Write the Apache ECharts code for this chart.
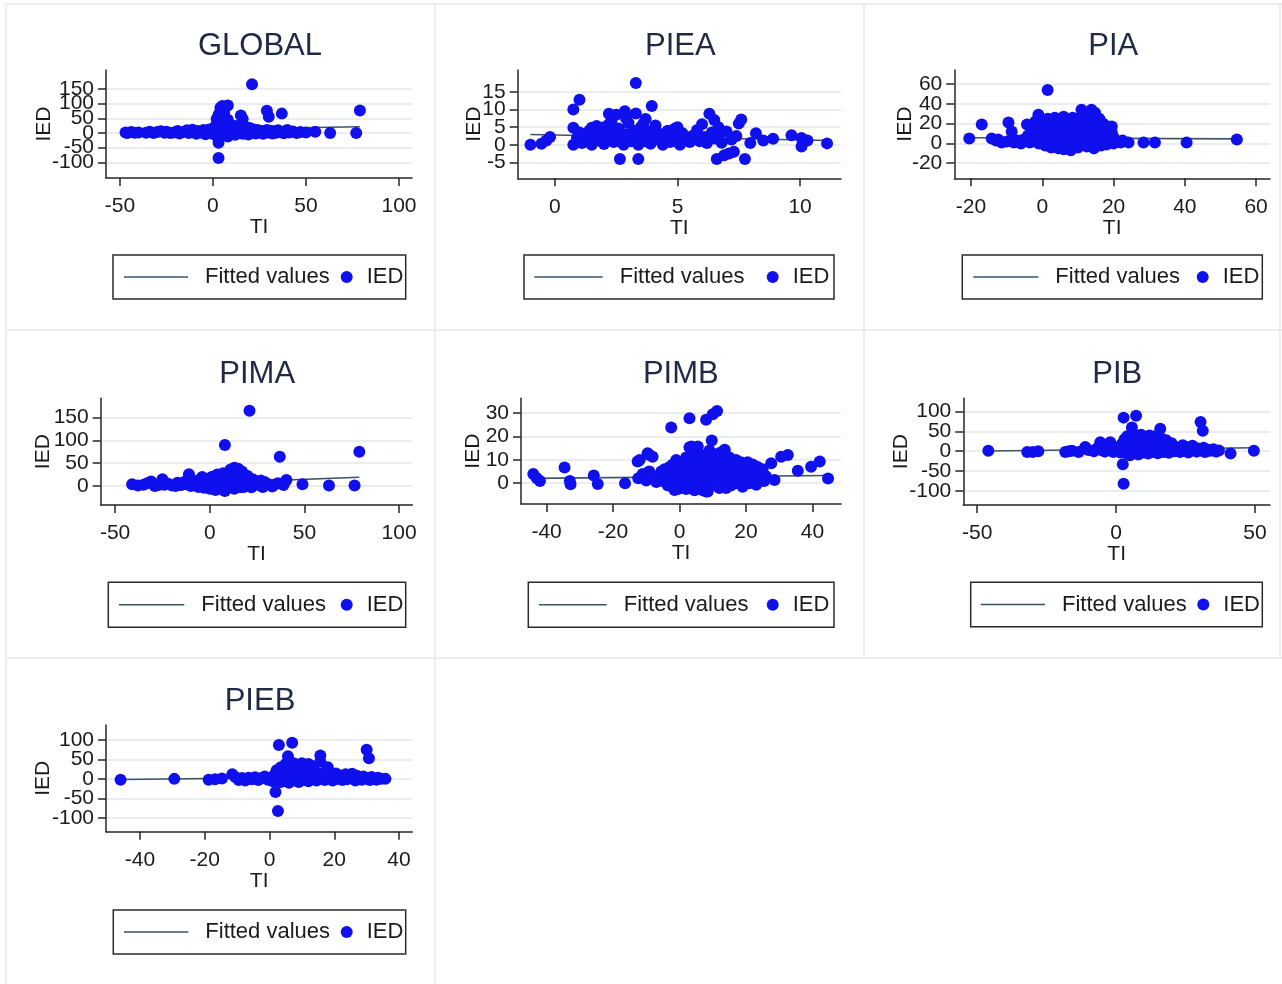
<!DOCTYPE html>
<html><head><meta charset="utf-8">
<script src="https://cdn.jsdelivr.net/npm/echarts@6/dist/echarts.min.js"></script>
<style>html,body{margin:0;padding:0;background:#fff}#c{width:1282px;height:984px}</style>
</head><body><div id="c"></div>
<script>
// ---------------- DATA ----------------
const panelNames = ['GLOBAL','PIEA','PIA','PIMA','PIMB','PIB','PIEB'];
const seriesNames = ['Fitted values','IED'];
const xAxisTitle = 'TI';
const yAxisTitle = 'IED';

const globalPts = [[-47,2],[-46,0],[-44,3],[-42,1],[-40,2],[-36,1],[-34,4],[-32,0],[-30,3],[-28,6],[-26,1],[-25,4],[-23,0],[-21,2],[-19,7],[-18,-2],[-16,3],[-14,9],[-13,0],[-11,11],[-10,4],[-9,-3],[-8,7],[-6,1],[-5,10],[-4,-4],[-3,4],[-2,12],[-1,-1],
[0,6],[1,20],[1,-6],[2,30],[2,3],[2,48],[3,62],[3,40],[3,14],[3,-10],[3,-20],[3,-33],[3,-85],[4,86],[4,25],[4,-4],[5,92],[5,55],[5,10],[6,70],[6,33],[6,-8],[7,18],[7,2],[8,94],[8,45],[8,-12],[9,28],[9,8],[10,24],[10,-2],
[11,20],[11,5],[12,24],[12,-6],[13,14],[13,22],[14,3],[14,18],[15,60],[15,12],[16,48],[16,-3],[17,20],[17,8],[18,14],[18,0],[19,18],[19,-5],[20,10],[20,16],[21,166],[21,4],[22,12],[23,-2],[23,8],[24,10],[25,2],
[26,7],[27,-3],[28,5],[29,76],[29,10],[30,55],[30,2],[31,8],[32,-2],[33,6],[34,1],[35,9],[36,3],[37,66],[38,-1],[39,7],[40,10],[41,2],[43,5],[45,0],[47,3],[50,2],[55,4],[63,0],[77,0],[79,77]];
const globalFit = [[-47,8.5],[79,21]];
const globalXTicks = [-50,0,50,100];
const globalYTicks = [-100,-50,0,50,100,150];

const pieaPts = [[-1,0],[-0.55,0.3],[-0.35,1.2],[-0.2,2.2],[0.75,10],[1.0,12.8],[0.75,4.8],[0.75,0],[3.3,17.5],[3.95,11],[2.2,8.8],[2.5,8.5],[2.85,9.5],[3.3,8.9],[2.65,-4],[3.4,-4],[3.7,7.3],[6.3,8.8],[6.5,7],[6.67,5],[6.6,-4],[6.9,-3],[7.3,-2],[7.1,-2.5],[7.75,-4],[7.5,6],[7.6,7.2],[7.97,0.5],[8.2,3.3],[8.5,1.2],[8.9,1.7],[9.65,2.7],[10.06,1.9],[10.06,-0.5],[10.3,1.2],[11.1,0.4],
[0.9,2],[1.0,3.5],[1.1,0.5],[1.2,2.8],[1.3,1],[1.4,4],[1.5,0],[1.6,2.5],[1.7,5.3],[1.8,1.2],[1.9,3.3],[2.0,0.2],[2.1,2],[2.2,5.8],[2.3,3.5],[2.4,0.8],[2.5,2.5],[2.6,4.6],[2.7,1.5],[2.8,0],[2.9,3],[3.0,6.2],[3.1,1],[3.2,4],[3.3,2.2],[3.4,0],[3.5,5],[3.6,2.8],[3.7,1],[3.8,3.8],[3.9,0.3],[4.0,2.2],[4.1,4.5],[4.2,1.5],[4.3,3],[4.4,0],[4.5,2],[4.6,4],[4.7,0.8],[4.8,2.8],[4.9,4.6],[5.0,1.5],[5.1,0],[5.2,3.3],[5.3,1.8],[5.5,0.8],[5.6,2.5],[5.8,4.2],[5.9,1],[6.0,5.8],[6.1,2.2],[6.2,0.5],[6.4,3.5],[6.5,1.8],[6.7,2.8],[6.8,0.6],[7.0,3.8],[7.2,1.5],[7.4,2.5],
[2.3,6.5],[2.9,7.5],[3.6,6],[4.1,5.5],[5.0,5],[2.0,5],[1.5,4.8]];
const pieaFit = [[-1,2.9],[11.2,1.2]];
const pieaXTicks = [0,5,10];
const pieaYTicks = [-5,0,5,10,15];

const piaPts = [[-20.5,5],[-17,19],[-14.2,5],[-13,3],[-12.4,4],[-11.4,1],[-10,2],[-9.5,21],[-8.6,12],[-8,1],[-7,3],[-6,0],[-5.2,4],[-4.3,19],[-4,8],[-3.5,1],[-3,14],[-2.5,3],[-2,22],[-1.5,8],[-1.1,29],[-1,0],[-0.5,15],[0,5],[0.5,20],[0.8,-2],[1,10],[1.5,54],[1.5,25],[2,3],[2,16],[2.5,-4],[2.5,8],[3,22],[3,12],[3.5,0],[3.5,26],[4,6],[4,18],[4.5,-5],[5,24],[5,10],[5.5,2],[5.5,16],[6,27],[6,-6],[6.5,7],[6.5,20],[7,13],[7,-3],[7.5,24],[7.5,3],[8,-7],[8,17],[8.5,9],[8.5,26],[9,0],[9,21],[9.5,12],[10,-4],[10,25],[10.5,6],[11,34],[11,17],[11.5,1],[12,22],[12,10],[12.5,-3],[13,30],[13,14],[13.5,4],[13.8,34],[14,24],[14.5,-5],[14.8,31],[15,18],[15,8],[15.5,1],[16,25],[16,12],[16.5,-2],[17,20],[17,5],[17.5,14],[18,-1],[18,9],[18.5,17],[19,3],[19.5,17],[19.5,11],[20,0],[20,6],[21,2],[22,1],[22.5,3],[24.2,1],[28.4,1],[31.6,1],[40.5,1],[54.6,4]];
const piaFit = [[-21,5.8],[55,4.6]];
const piaXTicks = [-20,0,20,40,60];
const piaYTicks = [-20,0,20,40,60];

const pimaPts = [[-41,4],[-38,1],[-35,3],[-33,6],[-31,10],[-29,0],[-27,2],[-25,15],[-24,3],[-22,5],[-20,1],[-18,0],[-17,7],[-15,2],[-13,10],[-12,4],[-11,26],[-11,6],[-10,0],[-9,12],[-8,3],[-7,8],[-6,-2],[-5,15],[-4,20],[-4,4],[-3,-4],[-2,9],[-1,14],[0,2],[0,-6],[1,20],[1,6],[2,-3],[2,12],[3,-9],[3,16],[4,3],[4,25],[5,-5],[5,9],[6,18],[6,0],[7,28],[7,-8],[8,90],[8,-11],[8,12],[9,4],[9,22],[10,30],[10,-4],[11,14],[11,36],[12,2],[12,25],[13,-6],[13,40],[14,10],[14,30],[15,38],[15,0],[16,20],[16,-3],[17,32],[17,8],[18,25],[18,-2],[19,15],[20,4],[20,22],[21,165],[21,10],[22,-3],[23,14],[24,5],[25,9],[26,2],[27,12],[28,-2],[29,9],[31,4],[33,-1],[34,3],[36,6],[37,64],[39,2],[40.5,13],[49,4],[63,1],[76.5,1],[79,75]];
const pimaFit = [[-41,0.2],[79,19.2]];
const pimaXTicks = [-50,0,50,100];
const pimaYTicks = [0,50,100,150];

const pimbPts = [[-44,4],[-43,2.2],[-42,1],[-34.6,6.7],[-33,1],[-32.8,-0.4],[-25.8,3.3],[-24.6,-0.3],[-16.4,0],[-12.6,9.3],[-12.4,2.1],[-11.1,4],[-9.6,12.9],[-9.1,5],[-8.1,11.4],[-7,0.5],[-6.5,3],[-5,1],[-4.5,6],[-3.5,-1],[-3,4],[-2.5,23.9],[-2,8],[-1.5,1.5],[-1,10],[-0.5,-2.5],[0,4],[0,7],[0.5,-1],[1,2],[1,9],[1.5,5],[2,-2.5],[2,11],[2.5,3],[3,27.9],[3,15.4],[3,7],[3.5,0],[4,4],[4,10],[4.5,-3],[5,6],[5,13],[5.5,15.7],[5.5,2],[6,9],[6,-1],[6.5,4],[7,12],[7,-3],[7.5,6.5],[8,27.2],[8,1],[8,10],[8.5,-3.5],[9,14],[9,4],[9.7,18.3],[9.5,8],[10,29.6],[10,-1],[10.5,11],[11.3,31],[11,3],[11.5,7],[12,-2],[12,13],[12.5,5],[13,9],[13.5,14],[13.5,1],[14,-2],[14.5,6],[15,11],[15,3],[15.5,-1],[16,8],[16.5,4],[17,10],[17,0],[17.5,6],[18,2],[18.5,9],[19,-1.5],[19,5],[19.5,7.5],[20,3],[20.5,9],[21,0],[21,6],[21.5,4],[22,8],[22.5,1],[23,5],[23.5,7],[24,2],[24.5,4],[25,6],[25.5,1],[26,3],[27.6,8.6],[28.6,1.4],[30.6,11.4],[32.6,12.1],[35.6,5.4],[39.6,7.1],[42.2,9.3],[44.7,2],
[-6.3,2.8],[-5.5,5],[-4,3],[-3,7],[-2,1],[-1,5],[0,1],[1,6],[2,8],[3,3],[4,7],[6,6],[7,2],[8,7],[9,1],[10,5],[11,9],[12,3],[13,6],[14,3],[15,7],[16,1],[17,4],[18,7],[19,3],[20,6],[21,3],[22,5],[23,2],[24,4],[24.7,2],[3.6,15.7],[13.6,14.3],[-9,12.1],[-12,10],[-10,1.2],[23.1,-0.7],[8,-3.5],[-1.5,-2.9]];
const pimbFit = [[-44,2.1],[44.7,3.3]];
const pimbXTicks = [-40,-20,0,20,40];
const pimbYTicks = [0,10,20,30];

const pibPts = [[-46,1],[-32,-2],[-30,-2],[-28,0],[-18.3,-2],[-17,0],[-15.9,1],[-13.5,-2],[-11.1,11],[-10,3],[-8,0],[-7,6],[-5.7,23],[-5,2],[-4,-1],[-3,8],[-2.1,23],[-1.5,2],[-1,-2],[0,5],[0.5,0],[1,10],[1.5,-3],[2,18],[2.4,-33],[2.7,-82],[2.7,85],[3,30],[3,2],[3.5,12],[4,-6],[4,38],[4.5,22],[5,5],[5,-10],[5.7,60],[6,14],[6,32],[6.5,-4],[7,40],[7,24],[7.2,90],[7.5,3],[8,15],[8,-8],[8.5,33],[9,6],[9,42],[9.5,22],[10,-3],[10,12],[10.5,36],[11,28],[11,2],[11.5,-6],[12,18],[12,40],[12.5,8],[13,30],[13,-2],[13.5,22],[14,12],[14,38],[14.5,0],[15,25],[15,-5],[15.5,15],[15.9,57],[16.3,32],[16.5,5],[17,20],[17,-2],[17.5,10],[18,28],[18,2],[19,14],[19,-4],[20,6],[20,20],[21,0],[21.5,10],[22,3],[23,-2],[23,8],[24,15],[24.5,2],[25,6],[26,-3],[26,10],[27,2],[27.5,14],[28,5],[29,-1],[29.5,7],[30.4,74],[31.2,52],[30.5,2],[31.5,9],[32,-2],[33,4],[34,1],[35,5],[36,-1],[37,2],[41.2,-6],[49.6,1]];
const pibFit = [[-46,0.5],[49.6,9]];
const pibXTicks = [-50,0,50];
const pibYTicks = [-100,-50,0,50,100];

const piebPts = [[-46,-2],[-29.4,0],[-18.8,-2],[-16.8,-1],[-14.7,1],[-11.5,12],[-10.5,4],[-9.5,-3],[-8.5,2],[-7.5,-4],[-6.5,3],[-5.5,-1],[-4.5,4],[-3.5,-3],[-2.5,2],[-1.5,6],[-0.5,-2],[0.5,3],[1,-6],[1.5,10],[1.85,-34],[2.2,22],[2.6,-83],[2.9,87],[3,5],[3.5,-8],[3.5,30],[4,14],[4.5,-2],[5,38],[5,22],[5.7,58],[6,4],[6,-10],[6.5,28],[7,93],[7,12],[7.5,40],[8,-4],[8,20],[8.5,34],[9,6],[9,-8],[9.5,26],[10,40],[10,14],[10.5,-2],[11,32],[11,20],[11.5,6],[12,38],[12,-6],[12.5,24],[13,12],[13,34],[13.5,2],[14,20],[14.5,-4],[15,10],[15.7,60],[15.7,44],[16,2],[16.5,14],[17,-3],[17.5,8],[18,30],[18,18],[18.5,2],[19,12],[19.5,-4],[20,6],[20.5,14],[21,0],[22,8],[22.5,-3],[23,4],[23.5,12],[24,-1],[25,6],[25.5,13],[26,1],[26.5,-4],[27,8],[28,3],[28.5,-2],[29,6],[30,75],[30.7,53],[30,1],[31,-3],[31.5,5],[32,1],[33,-2],[33.5,3],[34.5,0],[35.8,0]];
const piebFit = [[-46,-1.8],[36,5.8]];
const piebXTicks = [-40,-20,0,20,40];
const piebYTicks = [-100,-50,0,50,100];

// ---------------- LAYOUT (positions / styles) ----------------
const panels = [
  {pts:globalPts, fit:globalFit, xt:globalXTicks, yt:globalYTicks, grid:[106,70,412,178], xr:[-57.5,107], yr:[-153.6,214.8], title:[260,46.5], ied:62, box:[113,255,405.7,299], line:[124,188], dot:346.7},
  {pts:pieaPts, fit:pieaFit, xt:pieaXTicks, yt:pieaYTicks, grid:[517.7,70,841,178.3], xr:[-1.52,11.67], yr:[-9.5,21.2], title:[680.3,46.5], ied:43, box:[524,255,834,299], line:[534.3,602.7], dot:772.7},
  {pts:piaPts, fit:piaFit, xt:piaXTicks, yt:piaYTicks, grid:[954.3,70,1270,178.3], xr:[-24.7,63.9], yr:[-35.2,74.1], title:[1113.3,46.5], ied:49, box:[962.3,255,1262.3,299], line:[973.3,1038.3], dot:1202.7},
  {pts:pimaPts, fit:pimaFit, xt:pimaXTicks, yt:pimaYTicks, grid:[100.7,398.3,412.3,505], xr:[-57.6,107], yr:[-41.7,192.5], title:[257.2,374], ied:57.5, box:[108.3,582.3,405.7,627.3], line:[119,184.3], dot:346.7},
  {pts:pimbPts, fit:pimbFit, xt:pimbXTicks, yt:pimbYTicks, grid:[521,398.3,841,504], xr:[-47.7,48.6], yr:[-8.9,36.4], title:[680.8,374], ied:47.7, box:[528.3,582.3,834,627.3], line:[539,606.7], dot:772.7},
  {pts:pibPts, fit:pibFit, xt:pibXTicks, yt:pibYTicks, grid:[963.3,398.3,1270,505], xr:[-55,55.4], yr:[-136,133.9], title:[1117.2,374], ied:61.6, box:[970.7,582.3,1262.3,626.7], line:[980.7,1045], dot:1203.3},
  {pts:piebPts, fit:piebFit, xt:piebXTicks, yt:piebYTicks, grid:[106,725,412.3,831.7], xr:[-50.5,44.1], yr:[-136,138.7], title:[260,701.7], ied:62.7, box:[113.3,910,405.7,954], line:[124,188.3], dot:346.7}
];

const FONT = '"Liberation Sans", Arial, Helvetica, sans-serif';
const TXT = '#1b1b1b';
const AX = '#262626';
const DOT = '#1010ee';
const FITC = '#3b5566';
const LFS = 21;
const LEGFS = 22;

const option = {
  animation:false, backgroundColor:'#ffffff',
  title:[], grid:[], xAxis:[], yAxis:[], series:[], legend:[],
  graphic:{elements:[]}
};

panels.forEach((p,i)=>{
  const [l,t,r,b] = p.grid;
  option.title.push({text:panelNames[i], left:p.title[0], top:p.title[1], textAlign:'center', textVerticalAlign:'middle', padding:0,
    textStyle:{fontSize:31, fontWeight:'normal', color:'#1f2a44', fontFamily:FONT}});
  option.grid.push({left:l, top:t, width:r-l, height:b-t, containLabel:false, outerBoundsMode:'none', show:false});
  const lbl = {fontSize:LFS, color:TXT, fontFamily:FONT};
  option.xAxis.push({gridIndex:i, type:'value', min:p.xr[0], max:p.xr[1],
    name:xAxisTitle, nameLocation:'middle', nameGap:39, nameTextStyle:lbl, nameMoveOverlap:false,
    axisLine:{show:true, onZero:false, lineStyle:{color:AX, width:1.5}},
    axisTick:{show:true, length:8, customValues:p.xt, lineStyle:{color:AX, width:1.5}},
    axisLabel:Object.assign({customValues:p.xt, margin:18, hideOverlap:false, showMinLabel:true, showMaxLabel:true}, lbl),
    splitLine:{show:false}});
  // tick labels alternate between two overlaid y axes so none of them gets auto-hidden
  const evenLabels = p.yt.filter((v,k)=>k%2===0);
  const oddLabels = p.yt.filter((v,k)=>k%2===1);
  option.yAxis.push({gridIndex:i, type:'value', position:'left', offset:0, min:p.yr[0], max:p.yr[1],
    name:yAxisTitle, nameLocation:'middle', nameGap:p.ied-10.5, nameTextStyle:lbl, nameMoveOverlap:false,
    axisLine:{show:true, onZero:false, lineStyle:{color:AX, width:1.5}},
    axisTick:{show:true, length:8, customValues:p.yt, lineStyle:{color:AX, width:1.5}},
    axisLabel:Object.assign({customValues:evenLabels, margin:12, hideOverlap:false, showMinLabel:true, showMaxLabel:true}, lbl),
    splitLine:{show:true, lineStyle:{color:'#e3e9ed', width:1.5}}});
  option.yAxis.push({gridIndex:i, type:'value', position:'left', offset:0, min:p.yr[0], max:p.yr[1],
    axisLine:{show:false, onZero:false}, axisTick:{show:false},
    axisLabel:Object.assign({customValues:oddLabels, margin:12, hideOverlap:false, showMinLabel:true, showMaxLabel:true}, lbl),
    splitLine:{show:false}});
  option.series.push({type:'line', name:seriesNames[0], xAxisIndex:i, yAxisIndex:2*i, data:p.fit, symbol:'none',
    lineStyle:{color:FITC, width:1.6}, itemStyle:{color:FITC}, z:2, silent:true});
  option.series.push({type:'scatter', name:seriesNames[1], xAxisIndex:i, yAxisIndex:2*i, data:p.pts, symbol:'circle',
    symbolSize:12, itemStyle:{color:DOT, opacity:1}, z:3, silent:true});
  const cy = (p.box[1]+p.box[3])/2;
  option.legend.push({data:[{name:seriesNames[0], icon:'rect', itemStyle:{color:FITC}}], left:p.line[0], top:cy-12, padding:0, itemGap:0,
    itemWidth:p.line[1]-p.line[0], itemHeight:1.6, selectedMode:false, symbolKeepAspect:false,
    textStyle:{fontSize:LEGFS, color:TXT, fontFamily:FONT, lineHeight:24, padding:[0,0,0,12]}});
  option.legend.push({data:[{name:seriesNames[1], icon:'circle'}], left:p.dot-6, top:cy-12, padding:0, itemGap:0,
    itemWidth:12, itemHeight:12, selectedMode:false,
    textStyle:{fontSize:LEGFS, color:TXT, fontFamily:FONT, lineHeight:24, padding:[0,0,0,9]}});
  option.graphic.elements.push({type:'rect', silent:true, z:10,
    shape:{x:p.box[0], y:p.box[1], width:p.box[2]-p.box[0], height:p.box[3]-p.box[1]},
    style:{fill:'none', stroke:'#2a2a2a', lineWidth:1.5}});
});

const sep = '#e8e8e8';
[[6,4,1282,4],[6,330,1282,330],[6,658,1282,658],[6,4,6,984],[435,4,435,984],[864,4,864,658],[1280,4,1280,658]].forEach(s=>{
  option.graphic.elements.push({type:'line', silent:true, z:0, shape:{x1:s[0],y1:s[1],x2:s[2],y2:s[3]}, style:{stroke:sep, lineWidth:1.5}});
});

const chart = echarts.init(document.getElementById('c'), null, {renderer:'canvas'});
chart.setOption(option);
</script>
</body></html>
